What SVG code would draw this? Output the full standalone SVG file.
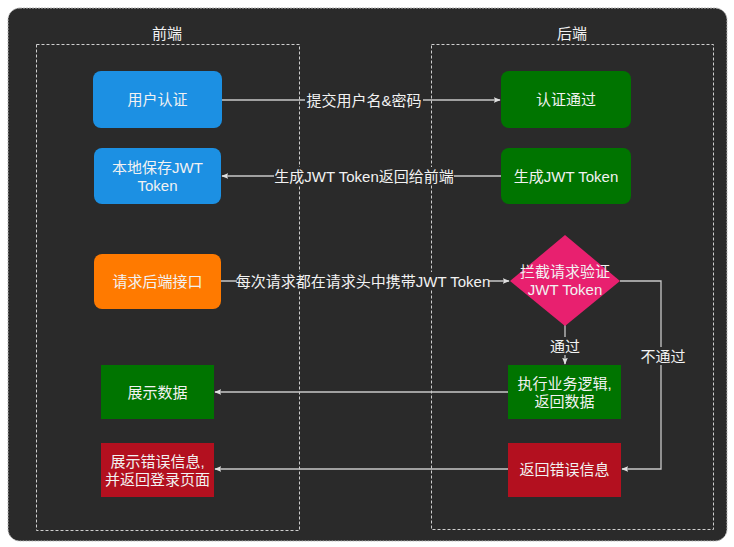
<svg xmlns="http://www.w3.org/2000/svg" width="734" height="547" viewBox="0 0 734 547">
<style>
text{font-family:"Liberation Sans","Noto Sans CJK SC",sans-serif;font-size:15px;fill:#f2f2f2;text-anchor:middle;dominant-baseline:central}
.lane{fill:none;stroke:#cfcfcf;stroke-width:1;stroke-dasharray:3 2}
.edge{fill:none;stroke:#c8c8c8;stroke-width:1.3}
.lbl{fill:#2a2a2a}
.blue{fill:#1c90e3}
.orange{fill:#ff7a00}
.green{fill:#007400}
.red{fill:#b3101f}
.pink{fill:#e8206f}
</style>
<defs>
<marker id="ah" viewBox="0 0 10 10" refX="9" refY="5" markerWidth="7" markerHeight="7" orient="auto" markerUnits="userSpaceOnUse">
<path d="M0,1 L10,5 L0,9 L2,5 Z" fill="#e0e0e0"/>
</marker>
</defs>
<rect x="0" y="0" width="734" height="547" fill="#ffffff"/>
<rect x="8" y="8" width="719" height="533" rx="12" fill="#2a2a2a" stroke="#bbbbbb" stroke-width="1" stroke-dasharray="2 1"/>
<g id="lane-front">
<rect class="lane" x="36.5" y="44.5" width="263" height="486"/>
<text x="167" y="33">前端</text>
</g>
<g id="lane-back">
<rect class="lane" x="431.5" y="44.5" width="282" height="485"/>
<text x="572" y="33">后端</text>
</g>
<g id="connectors">
<path class="edge" d="M222,100 H500" marker-end="url(#ah)"/>
<rect class="lbl" x="305" y="91" width="118" height="18"/>
<text x="364" y="100">提交用户名&amp;密码</text>
<path class="edge" d="M501,176 H222" marker-end="url(#ah)"/>
<rect class="lbl" x="274" y="167" width="180" height="18"/>
<text x="364" y="176">生成JWT Token返回给前端</text>
<path class="edge" d="M221,281 H509" marker-end="url(#ah)"/>
<rect class="lbl" x="237" y="272" width="252" height="18"/>
<text x="363" y="281">每次请求都在请求头中携带JWT Token</text>
<path class="edge" d="M565,325 V364" marker-end="url(#ah)"/>
<rect class="lbl" x="549" y="337" width="32" height="18"/>
<text x="565" y="346">通过</text>
<path class="edge" d="M620,281 H661 V469 H622" marker-end="url(#ah)"/>
<rect class="lbl" x="640" y="347" width="46" height="18"/>
<text x="663" y="356">不通过</text>
<path class="edge" d="M508,392 H215" marker-end="url(#ah)"/>
<path class="edge" d="M508,469 H215" marker-end="url(#ah)"/>
</g>
<g id="n-auth">
<rect class="blue" x="93" y="71" width="129" height="57" rx="8"/>
<text x="157.5" y="99.5">用户认证</text>
</g>
<g id="n-save">
<rect class="blue" x="94" y="148" width="127" height="56" rx="8"/>
<text x="157.5" y="167">本地保存JWT</text>
<text x="157.5" y="185">Token</text>
</g>
<g id="n-request">
<rect class="orange" x="94" y="254" width="127" height="55" rx="8"/>
<text x="157.5" y="281">请求后端接口</text>
</g>
<g id="n-show">
<rect class="green" x="101" y="365" width="113" height="54"/>
<text x="157.5" y="392">展示数据</text>
</g>
<g id="n-showerr">
<rect class="red" x="101" y="443" width="113" height="54"/>
<text x="157.5" y="461">展示错误信息,</text>
<text x="157.5" y="479">并返回登录页面</text>
</g>
<g id="n-pass">
<rect class="green" x="501" y="71" width="130" height="57" rx="8"/>
<text x="566" y="99.5">认证通过</text>
</g>
<g id="n-gen">
<rect class="green" x="501" y="148" width="130" height="56" rx="8"/>
<text x="566" y="176">生成JWT Token</text>
</g>
<g id="n-check">
<polygon class="pink" points="565,235 620,281 565,326 510,281"/>
<text x="565" y="271">拦截请求验证</text>
<text x="565" y="289">JWT Token</text>
</g>
<g id="n-exec">
<rect class="green" x="508" y="365" width="113" height="54"/>
<text x="564.5" y="383">执行业务逻辑,</text>
<text x="564.5" y="401">返回数据</text>
</g>
<g id="n-reterr">
<rect class="red" x="508" y="443" width="113" height="54"/>
<text x="564.5" y="469">返回错误信息</text>
</g>
</svg>
